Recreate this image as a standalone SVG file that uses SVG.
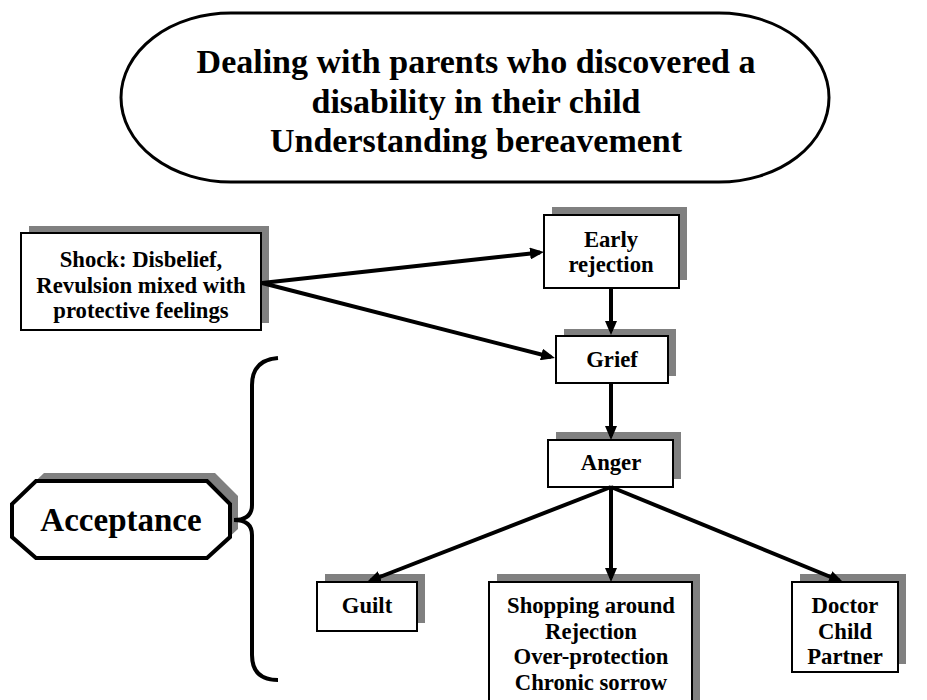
<svg xmlns="http://www.w3.org/2000/svg" width="927" height="700" viewBox="0 0 927 700">
<defs>
<style>
.box{fill:#fff;stroke:#000;stroke-width:2}
.sh{fill:#808080}
.t{font-family:"Liberation Serif","Times New Roman",serif;font-weight:bold;fill:#000;text-anchor:middle}
.n{font-size:22.7px}
.conn line{stroke:#000;stroke-width:4;marker-end:url(#ah)}
</style>
<marker id="ah" viewBox="0 0 14 12" markerWidth="14" markerHeight="12" refX="10" refY="6" orient="auto" markerUnits="userSpaceOnUse">
<path d="M0,0 L14,6 L0,12 z" fill="#000"/>
</marker>
</defs>
<rect width="927" height="700" fill="#fff"/>

<g id="title">
<rect x="121" y="13" width="708" height="169" rx="110" ry="84.5" fill="#fff" stroke="#000" stroke-width="3"/>
<text class="t" font-size="34" x="476" y="73">Dealing with parents who discovered a</text>
<text class="t" font-size="34" x="476" y="113">disability in their child</text>
<text class="t" font-size="34" x="476" y="152">Understanding bereavement</text>
</g>

<g id="shock">
<rect class="sh" x="29" y="226" width="240" height="97"/>
<rect class="box" x="21" y="233" width="240" height="97"/>
<text class="t n" x="141" y="267">Shock: Disbelief,</text>
<text class="t n" x="141" y="293">Revulsion mixed with</text>
<text class="t n" x="141" y="318">protective feelings</text>
</g>

<g id="early">
<rect class="sh" x="552" y="207" width="135" height="73"/>
<rect class="box" x="544" y="215" width="135" height="73"/>
<text class="t n" x="611" y="247">Early</text>
<text class="t n" x="611" y="272">rejection</text>
</g>

<g id="grief">
<rect class="sh" x="564" y="329" width="112" height="47"/>
<rect class="box" x="556" y="336" width="112" height="47"/>
<text class="t n" x="612" y="367">Grief</text>
</g>

<g id="anger">
<rect class="sh" x="556" y="432" width="125" height="47"/>
<rect class="box" x="548" y="440" width="125" height="47"/>
<text class="t n" x="611" y="470">Anger</text>
</g>

<g id="guilt">
<rect class="sh" x="325" y="574" width="100" height="49"/>
<rect class="box" x="317" y="582" width="100" height="49"/>
<text class="t n" x="367" y="613">Guilt</text>
</g>

<g id="shopping">
<rect class="sh" x="497" y="574" width="203" height="140"/>
<rect class="box" x="489" y="582" width="203" height="140"/>
<text class="t n" x="591" y="613">Shopping around</text>
<text class="t n" x="591" y="639">Rejection</text>
<text class="t n" x="591" y="664">Over-protection</text>
<text class="t n" x="591" y="690">Chronic sorrow</text>
</g>

<g id="doctor">
<rect class="sh" x="800" y="574" width="106" height="90"/>
<rect class="box" x="792" y="582" width="106" height="90"/>
<text class="t n" x="845" y="613">Doctor</text>
<text class="t n" x="845" y="639">Child</text>
<text class="t n" x="845" y="664">Partner</text>
</g>

<g id="acceptance">
<polygon class="sh" points="44,473 215,473 238,496 238,529 215,550 44,550 20,529 20,496"/>
<polygon points="36,481 207,481 230,504 230,537 207,558 36,558 12,537 12,504" fill="#fff" stroke="#000" stroke-width="4"/>
<text class="t" font-size="33" x="121" y="531">Acceptance</text>
</g>

<g id="brace">
<path d="M278,358 Q252,360 252,385 L252,505 Q252,520 234,520 Q252,520 252,535 L252,655 Q252,680 278,680" fill="none" stroke="#000" stroke-width="4"/>
</g>

<g class="conn" id="connectors">
<line x1="262" y1="283" x2="540" y2="252.4"/>
<line x1="262" y1="283" x2="551.1" y2="357"/>
<line x1="611" y1="288" x2="611" y2="331"/>
<line x1="611" y1="383" x2="611" y2="436"/>
<line x1="611" y1="487" x2="370.7" y2="580.5"/>
<line x1="611" y1="487" x2="611" y2="578"/>
<line x1="611" y1="487" x2="839.3" y2="580.5"/>
</g>
</svg>
